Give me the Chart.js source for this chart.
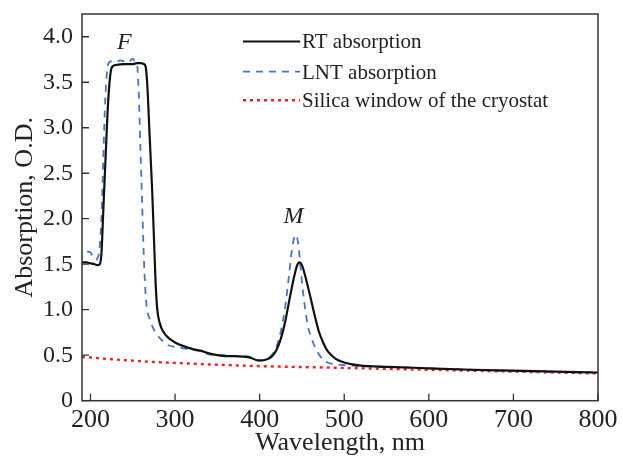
<!DOCTYPE html>
<html>
<head>
<meta charset="utf-8">
<script src="https://cdn.jsdelivr.net/npm/chart.js@4.4.1/dist/chart.umd.min.js"></script>
<style>
  html, body { margin: 0; padding: 0; background: #ffffff; }
  #wrap { width: 623px; height: 456px; }
</style>
</head>
<body>
<div id="wrap"><canvas id="c" width="623" height="456"></canvas></div>
<script>
// ---- Data ----
const rtWavelength = [190,195,200,205,208,211,213,215,218,221,224,227,230,240,250,255,260,263,265,267,270,273,275,277,279,282,286,290,295,300,310,320,330,340,350,360,370,380,390,395,400,405,410,415,420,425,430,435,440,444,447,450,455,460,465,470,475,480,485,490,500,510,520,540,560,600,650,700,750,800];
const rtAbsorption = [1.52,1.52,1.51,1.50,1.49,1.50,1.62,2.05,2.70,3.30,3.62,3.68,3.69,3.70,3.70,3.71,3.71,3.70,3.68,3.50,2.90,2.30,1.80,1.30,1.00,0.85,0.76,0.71,0.67,0.64,0.60,0.57,0.55,0.52,0.50,0.49,0.49,0.485,0.47,0.45,0.44,0.445,0.46,0.49,0.56,0.68,0.86,1.10,1.33,1.48,1.52,1.49,1.33,1.14,0.94,0.76,0.64,0.55,0.50,0.46,0.42,0.40,0.385,0.375,0.37,0.355,0.34,0.33,0.32,0.31];

const lntWavelength = [196,200,203,206,209,211,213,215,217,219,221,224,230,235,240,245,250,253,255,257,259,261,263,265,267,270,274,279,285,292,300,310,320,330,340,350,360,370,380,390,395,400,405,410,415,420,425,430,435,438,441,443,446,448,451,454,457,460,465,470,475,480,490,500,510,530,560,600,650,700,750,800];
const lntAbsorption = [1.64,1.63,1.58,1.55,1.58,1.70,2.00,2.60,3.20,3.55,3.70,3.73,3.72,3.74,3.73,3.72,3.76,3.72,3.70,3.40,2.80,2.20,1.60,1.20,1.00,0.90,0.80,0.72,0.66,0.61,0.59,0.575,0.56,0.54,0.51,0.50,0.50,0.49,0.49,0.48,0.46,0.445,0.445,0.47,0.51,0.60,0.76,1.02,1.40,1.65,1.80,1.82,1.70,1.50,1.22,1.00,0.82,0.72,0.60,0.51,0.45,0.42,0.40,0.39,0.385,0.38,0.37,0.355,0.34,0.325,0.315,0.31];

const silicaWavelength = [190,200,225,250,275,300,350,400,450,500,550,600,650,700,750,800];
const silicaAbsorption = [0.48,0.475,0.455,0.44,0.425,0.415,0.395,0.38,0.37,0.36,0.35,0.34,0.33,0.32,0.31,0.30];

const seriesLabels = ['RT absorption', 'LNT absorption', 'Silica window of the cryostat'];
const xTickValues = [200,300,400,500,600,700,800];
const yTickValues = [0,0.5,1.0,1.5,2.0,2.5,3.0,3.5,4.0];
const peakLabels = ['F', 'M'];
const peakWavelengths = [240, 440];
const peakAbsorptions = [3.86, 1.95];

// ---- Build ----
const toPoints = (xs, ys) => xs.map((x, i) => ({x: x, y: ys[i]}));
const SERIF = '"Liberation Serif", "Times New Roman", serif';

const frameAndTicks = {
  id: 'frameAndTicks',
  afterDraw(chart) {
    const {ctx, chartArea: a, scales: {x, y}} = chart;
    ctx.save();
    ctx.strokeStyle = '#333333';
    ctx.lineWidth = 1.5;
    ctx.strokeRect(a.left, a.top, a.right - a.left, a.bottom - a.top);
    ctx.lineWidth = 1.3;
    ctx.beginPath();
    x.ticks.forEach(t => {
      const px = x.getPixelForValue(t.value);
      ctx.moveTo(px, a.bottom); ctx.lineTo(px, a.bottom - 7);
    });
    y.ticks.forEach(t => {
      const py = y.getPixelForValue(t.value);
      ctx.moveTo(a.left, py); ctx.lineTo(a.left + 7, py);
    });
    ctx.stroke();

    // peak labels
    ctx.fillStyle = '#222222';
    ctx.font = 'italic 24px ' + SERIF;
    ctx.textAlign = 'center';
    ctx.textBaseline = 'alphabetic';
    peakLabels.forEach((lab, i) => {
      ctx.fillText(lab, x.getPixelForValue(peakWavelengths[i]), y.getPixelForValue(peakAbsorptions[i]));
    });

    // legend
    const lx0 = 243, lx1 = 300, tx = 302;
    const baselines = [48.3, 78.5, 107];
    ctx.textAlign = 'left';
    ctx.font = '21px ' + SERIF;
    chart.data.datasets.forEach((ds, i) => {
      const ly = baselines[i] - 6.8;
      ctx.save();
      ctx.strokeStyle = ds.borderColor;
      ctx.lineWidth = ds.borderWidth;
      ctx.setLineDash(ds.borderDash || []);
      ctx.beginPath();
      ctx.moveTo(lx0, ly); ctx.lineTo(lx1, ly);
      ctx.stroke();
      ctx.restore();
      ctx.fillStyle = '#222222';
      ctx.fillText(ds.label, tx, baselines[i]);
    });
    ctx.restore();
  }
};

new Chart(document.getElementById('c'), {
  type: 'line',
  data: {
    datasets: [
      {
        label: seriesLabels[0],
        data: toPoints(rtWavelength, rtAbsorption),
        borderColor: '#111111',
        borderWidth: 2.2,
        pointRadius: 0,
        cubicInterpolationMode: 'monotone',
        fill: false
      },
      {
        label: seriesLabels[1],
        data: toPoints(lntWavelength, lntAbsorption),
        borderColor: '#4a72c4',
        borderWidth: 1.8,
        borderDash: [7, 6],
        pointRadius: 0,
        cubicInterpolationMode: 'monotone',
        fill: false
      },
      {
        label: seriesLabels[2],
        data: toPoints(silicaWavelength, silicaAbsorption),
        borderColor: '#ee1c25',
        borderWidth: 2.4,
        borderDash: [3, 4],
        pointRadius: 0,
        cubicInterpolationMode: 'monotone',
        fill: false
      }
    ]
  },
  options: {
    responsive: false,
    animation: false,
    layout: { padding: { left: 0, right: 25, top: 14, bottom: 0 } },
    plugins: { legend: { display: false }, tooltip: { enabled: false } },
    scales: {
      x: {
        type: 'linear',
        min: 190,
        max: 800,
        afterBuildTicks: s => { s.ticks = xTickValues.map(v => ({value: v})); },
        afterFit: s => { s.height = 55.3; s.paddingLeft = 0; s.paddingRight = 0; },
        grid: { display: false, drawTicks: false },
        border: { display: false },
        ticks: {
          color: '#222222',
          font: { family: SERIF, size: 26 },
          padding: 4,
          maxRotation: 0,
          callback: v => String(v)
        },
        title: {
          display: true,
          text: 'Wavelength, nm',
          color: '#222222',
          font: { family: SERIF, size: 26, lineHeight: 1.0 },
          padding: { top: 0, bottom: 0 }
        }
      },
      y: {
        type: 'linear',
        min: 0,
        max: 4.25,
        afterBuildTicks: s => { s.ticks = yTickValues.map(v => ({value: v})); },
        afterFit: s => { s.width = 82; s.paddingTop = 0; s.paddingBottom = 0; },
        grid: { display: false, drawTicks: false },
        border: { display: false },
        ticks: {
          color: '#222222',
          font: { family: SERIF, size: 24 },
          padding: 9,
          callback: v => (v === 0 ? '0' : Number(v).toFixed(1))
        },
        title: {
          display: true,
          text: 'Absorption, O.D.',
          color: '#222222',
          font: { family: SERIF, size: 26, lineHeight: 1.2 },
          padding: { top: 10, bottom: 0 }
        }
      }
    }
  },
  plugins: [frameAndTicks]
});
</script>
</body>
</html>
